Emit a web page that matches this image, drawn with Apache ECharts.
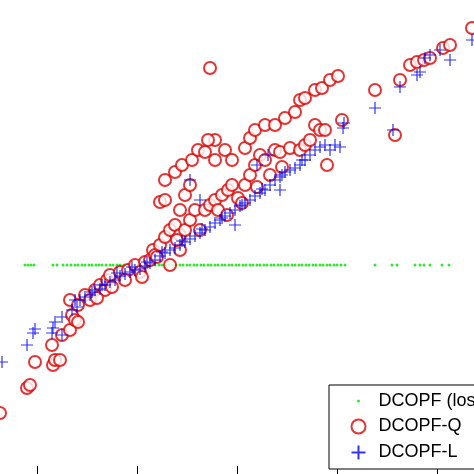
<!DOCTYPE html>
<html>
<head>
<meta charset="utf-8">
<script src="https://cdn.jsdelivr.net/npm/echarts@6/dist/echarts.min.js"></script>
<style>html,body{margin:0;padding:0;background:#fff}#chart{width:474px;height:474px}</style>
</head>
<body>
<div id="chart"></div>
<script>
var seriesNames = ['DCOPF (lossless)', 'DCOPF-Q', 'DCOPF-L'];
var xTicks = [-2, -1, 0, 1, 2];

// DCOPF (lossless): all on y = 0
var losslessX = [-2.12, -2.09, -2.06, -2.03, -1.84, -1.80, -1.74, -1.70, -1.66, -1.62, -1.59, -1.55,
  -1.52, -1.48, -1.45, -1.41, -1.38, -1.35, -1.31, -1.27, -1.24, -1.20, -1.17, -1.13, -1.10, -1.06,
  -1.03, -0.99, -0.96, -0.92, -0.89, -0.85, -0.82, -0.78, -0.75, -0.71, -0.68, -0.64, -0.61, -0.57,
  -0.54, -0.50, -0.47, -0.43, -0.40, -0.36, -0.33, -0.29, -0.26, -0.22, -0.19, -0.15, -0.12, -0.08,
  -0.05, -0.01, 0.02, 0.06, 0.09, 0.13, 0.16, 0.20, 0.23, 0.27, 0.30, 0.34, 0.37, 0.41, 0.44, 0.48,
  0.51, 0.55, 0.58, 0.62, 0.65, 0.69, 0.72, 0.76, 0.79, 0.83, 0.86, 0.90, 0.93, 0.97, 1.00, 1.04,
  1.08, 1.38, 1.55, 1.60, 1.78, 1.83, 1.87, 1.93, 2.05, 2.12];
var losslessY = losslessX.map(function() { return 0; });

var quadX = [-2.37, -2.10, -2.07, -2.02, -1.84, -1.82, -1.77, -1.85, -1.75, -1.67, -1.65, -1.62, -1.59,
  -1.67, -1.59, -1.52, -1.47, -1.42, -1.37, -1.32, -1.30, -1.27, -1.17, -1.09, -1.02, -0.97, -0.92,
  -0.87, -0.84, -0.82, -0.77, -0.72, -0.67, -0.62, -0.57, -0.52, -0.47, -0.42, -0.37, -0.32, -0.27,
  -0.22, -0.19, -0.15, -0.09, -0.05, 0.01, 0.08, 0.13, 0.18, 0.23, 0.28, 0.38, 0.43, 0.53, 0.63, 0.68,
  0.73, 0.78, 0.83, 0.88, 0.90, 1.05, -0.72, -0.62, -0.55, -0.45, -0.39, -0.32, -0.22, -0.12, -0.05,
  0.08, 0.13, 0.18, 0.28, 0.38, 0.48, 0.58, 0.63, 0.68, 0.78, 0.85, 0.93, 1.01, -0.27, -0.29, -0.77,
  -0.52, -0.47, -0.67, -0.57, -0.22, 1.58, 1.38, 1.63, 1.73, 1.80, 1.87, 1.93, 2.06, 2.13, 2.35, -0.72, -0.57,
  -1.40, -1.25, -1.12, -0.95, -0.80, -0.60, -0.10, 0.05, 0.20, 0.33, 0.45];
var quadY = [-1.48, -1.23, -1.20, -0.97, -1.00, -0.95, -0.95, -0.80, -0.70, -0.65, -0.50, -0.55, -0.57,
  -0.35, -0.40, -0.30, -0.35, -0.25, -0.20, -0.25, -0.15, -0.10, -0.07, -0.05, 0.00, -0.07, 0.03,
  0.05, 0.15, 0.10, 0.20, 0.28, 0.35, 0.40, 0.30, 0.35, 0.45, 0.55, 0.35, 0.55, 0.60,
  0.65, 0.55, 0.70, 0.75, 0.80, 0.67, 0.80, 0.90, 1.00, 1.10, 1.05, 1.15, 1.13, 1.17, 1.15, 1.20,
  1.25, 1.40, 1.35, 1.35, 1.00, 1.45, 0.85, 0.93, 1.00, 1.05, 1.15, 1.13, 1.25, 1.15, 1.05,
  1.17, 1.27, 1.35, 1.40, 1.40, 1.47, 1.53, 1.65, 1.67, 1.75, 1.77, 1.85, 1.89, 1.97, 1.25, 0.63,
  0.70, 0.80, 0.00, 0.15, 1.05, 1.30, 1.75, 1.85, 2.00, 2.03, 2.05, 2.07, 2.17, 2.20, 2.37, 0.65, 0.55,
  -0.33, -0.22, -0.15, -0.12, 0.08, 0.25, 0.50, 0.62, 0.78, 0.90, 0.98];

var linX = [-2.35, -2.10, -2.04, -2.02, -1.84, -1.82, -1.75, -1.65, -1.62, -1.57, -1.52, -1.47, -1.42,
  -1.37, -1.32, -1.27, -1.22, -1.17, -1.12, -1.07, -1.02, -0.97, -0.92, -0.87, -0.82, -0.77, -0.72,
  -0.67, -0.62, -0.57, -0.52, -0.47, -0.42, -0.37, -0.32, -0.27, -0.22, -0.17, -0.12, -0.07, -0.02,
  0.03, 0.08, 0.13, 0.18, 0.23, 0.28, 0.33, 0.38, 0.43, 0.48, 0.53, 0.58, 0.63, 0.68, 0.73, 0.78,
  0.83, 0.88, 0.93, 0.98, 1.03, 1.06, 1.07, 1.38, 1.56, 1.63, 1.80, 1.83, 1.88, 1.93, 2.03, 2.13, 2.35,
  0.31, 0.20, 0.43, -0.02, -0.47, -0.37, -1.75, -1.85,
  -1.60, -1.45, -1.35, -1.20, -1.05, -0.90, -0.75, -0.55, -0.35, -0.15, 0.05, 0.25, 0.45, 0.65];
var linY = [-0.97, -0.80, -0.68, -0.64, -0.63, -0.57, -0.52, -0.45, -0.35, -0.35, -0.32, -0.30, -0.25,
  -0.24, -0.20, -0.17, -0.15, -0.11, -0.09, -0.07, -0.05, -0.04, -0.01, 0.02, 0.05, 0.09, 0.12,
  0.15, 0.17, 0.20, 0.23, 0.26, 0.29, 0.32, 0.35, 0.38, 0.42, 0.45, 0.49, 0.52, 0.55,
  0.59, 0.62, 0.65, 0.69, 0.72, 0.75, 0.80, 0.85, 0.88, 0.93, 0.95, 0.97, 1.00, 1.05, 1.10, 1.15,
  1.18, 1.20, 1.15, 1.20, 1.18, 1.37, 1.42, 1.57, 1.35, 1.78, 1.90, 1.93, 2.07, 2.10, 2.15, 2.05, 2.25,
  1.10, 1.00, 0.75, 0.40, 0.85, 0.65, -0.70, -0.68,
  -0.42, -0.27, -0.20, -0.08, -0.02, 0.03, 0.13, 0.24, 0.36, 0.47, 0.60, 0.76, 0.90, 1.05];

function pairs(xs, ys) {
  return xs.map(function(x, i) { return [x, ys[i]]; });
}

var crossPath = 'path://M0,5L10,5M5,0L5,10';
// small dot inside a 14x14 box so the legend icon stays tiny
var dotIcon = 'path://M0,0L0.01,0M14,14L13.99,14M5.5,7A1.5,1.5 0 1,0 8.5,7A1.5,1.5 0 1,0 5.5,7Z';

var chart = echarts.init(document.getElementById('chart'));
chart.setOption({
  animation: false,
  backgroundColor: '#fff',
  grid: { left: 0, right: 0, top: 0, bottom: 0 },
  xAxis: {
    type: 'value', min: -2.37, max: 2.37,
    axisLine: { show: false, onZero: false },
    axisTick: { show: true, inside: true, length: 8, customValues: xTicks, lineStyle: { color: '#000', width: 1 } },
    axisLabel: { show: false },
    splitLine: { show: false }
  },
  yAxis: {
    type: 'value', min: -2.09, max: 2.65,
    show: false, splitLine: { show: false }
  },
  legend: {
    orient: 'vertical', left: 329, top: 385,
    padding: [7, 60, 7, 20],
    borderColor: '#000', borderWidth: 1, backgroundColor: '#fff',
    itemWidth: 14, itemHeight: 14, itemGap: 7.5,
    textStyle: { fontFamily: 'Liberation Sans', fontSize: 18, lineHeight: 14, color: '#000', padding: [0, 0, 0, 8] },
    data: [
      { name: seriesNames[0], icon: dotIcon },
      { name: seriesNames[1] },
      { name: seriesNames[2] }
    ]
  },
  series: [
    {
      name: seriesNames[0], type: 'scatter', symbol: 'circle', symbolSize: 3,
      itemStyle: { color: '#00e000' }, data: pairs(losslessX, losslessY), z: 1
    },
    {
      name: seriesNames[1], type: 'scatter', symbol: 'emptyCircle', symbolSize: 12,
      itemStyle: { color: '#e00000', borderColor: '#e00000', borderWidth: 1 },
      data: pairs(quadX, quadY), z: 2
    },
    {
      name: seriesNames[2], type: 'scatter', symbol: crossPath, symbolSize: 12,
      itemStyle: { color: 'none', borderColor: '#0000ee', borderWidth: 1.2 },
      data: pairs(linX, linY), z: 3
    }
  ]
});
</script>
</body>
</html>
